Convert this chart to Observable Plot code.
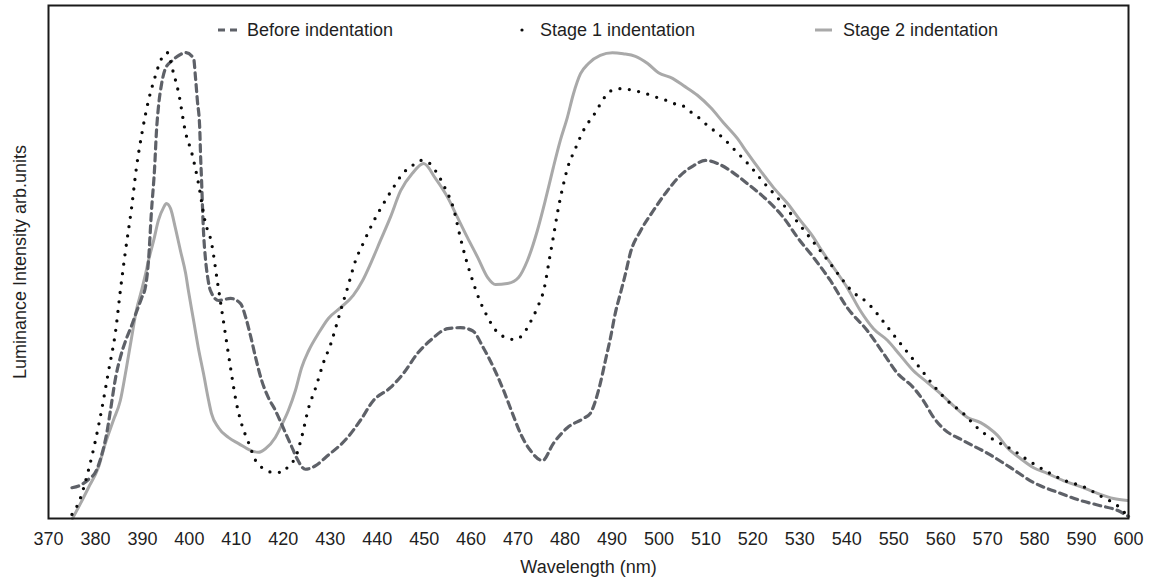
<!DOCTYPE html>
<html><head><meta charset="utf-8">
<script src="https://cdn.jsdelivr.net/npm/d3@7"></script>
<script src="https://cdn.jsdelivr.net/npm/@observablehq/plot@0.6"></script>
<style>
body{margin:0;background:#fff;font-family:"Liberation Sans",Arial,Helvetica,sans-serif;}
#wrap{position:relative;width:1152px;height:579px;overflow:hidden;}
.lg{position:absolute;top:20px;height:20px;line-height:20px;font-size:18px;color:#1f1f1f;white-space:nowrap;}
.sym{position:absolute;top:20px;}
</style></head><body><div id="wrap"></div>
<script>
// Wavelength (nm), intensity (arb. units, 0–100 scale)
const beforeIndentation = [[375.0,6.0],[376.6,6.4],[378.5,7.6],[380.2,9.4],[381.3,12.3],[382.4,16.6],[383.2,21.1],[384.3,27.5],[385.3,31.4],[386.6,35.1],[387.7,37.6],[388.7,40.2],[389.8,42.9],[390.7,45.4],[391.3,50.3],[391.9,59.5],[392.6,68.4],[393.0,75.6],[393.4,80.1],[394.1,84.8],[394.9,87.7],[396.4,89.3],[398.0,90.4],[399.2,90.8],[400.9,89.7],[401.3,86.0],[401.7,81.5],[402.2,76.2],[402.4,70.4],[402.6,65.9],[402.8,60.6],[403.0,56.1],[403.4,50.9],[403.9,47.0],[404.5,44.4],[406.2,42.5],[408.8,42.9],[410.9,41.9],[412.0,39.2],[413.0,35.7],[414.1,31.4],[415.4,26.9],[416.8,23.6],[418.3,21.1],[419.6,18.5],[420.7,16.2],[421.7,14.2],[422.8,11.9],[424.7,9.6],[426.9,10.3],[429.0,11.9],[433.7,15.8],[436.4,19.1],[439.2,23.0],[442.8,25.5],[445.6,28.3],[448.6,32.2],[451.3,34.7],[455.0,37.0],[457.7,37.2],[460.3,36.6],[462.6,33.3],[464.8,29.4],[466.9,25.0],[468.8,20.5],[470.5,16.6],[472.6,13.3],[475.2,11.3],[477.5,14.6],[480.5,17.7],[483.9,19.5],[485.4,20.5],[486.5,23.0],[487.5,26.3],[488.6,30.8],[489.7,35.3],[490.7,40.0],[491.8,43.9],[492.9,47.8],[493.9,51.7],[496.1,56.1],[498.8,60.0],[501.8,63.9],[504.6,66.9],[507.4,68.8],[509.9,69.8],[512.5,69.2],[515.2,67.8],[518.8,65.3],[523.1,62.0],[526.5,58.7],[529.5,54.8],[532.9,50.9],[536.5,46.4],[540.1,41.1],[544.4,36.6],[547.8,32.2],[550.8,28.3],[554.2,25.5],[556.3,23.0],[558.5,19.7],[560.6,17.5],[564.8,15.2],[570.0,12.7],[574.9,9.9],[579.8,7.0],[584.9,5.1],[589.8,3.5],[594.0,2.5],[597.6,1.6],[600.0,0.4]];

const stage1Indentation = [[375.0,0.8],[376.6,3.5],[378.5,9.4],[380.0,15.2],[381.3,21.1],[382.8,28.8],[384.3,36.6],[385.3,44.4],[386.4,52.2],[387.7,60.6],[388.7,68.2],[390.0,75.6],[391.3,81.5],[392.6,85.8],[394.1,89.7],[395.3,90.8],[396.6,86.9],[397.7,83.0],[399.2,75.2],[400.5,71.3],[401.9,65.5],[403.4,57.7],[404.7,53.8],[406.0,46.0],[407.3,38.2],[408.8,29.2],[410.0,22.6],[411.1,18.5],[412.6,14.8],[414.1,11.3],[415.8,9.7],[417.9,9.0],[420.0,9.0],[421.1,10.3],[422.6,11.9],[423.9,15.8],[425.4,21.6],[426.9,25.5],[428.6,30.5],[430.1,34.0],[431.1,37.0],[432.2,40.5],[433.7,45.0],[435.4,50.3],[437.1,53.8],[439.0,57.5],[441.1,61.0],[443.3,64.3],[445.6,67.4],[447.5,68.8],[449.2,69.8],[450.9,69.4],[452.4,67.8],[454.5,64.3],[456.2,60.6],[457.7,54.8],[458.8,50.9],[460.1,47.0],[461.4,43.5],[463.1,40.0],[465.6,36.3],[467.3,35.3],[469.2,34.9],[471.1,35.9],[472.2,37.6],[474.1,41.1],[475.6,45.0],[476.7,50.7],[477.5,54.8],[478.6,60.6],[479.5,64.5],[480.5,68.2],[482.2,72.1],[483.9,75.6],[486.3,78.9],[488.6,82.3],[490.3,83.6],[492.4,83.8],[494.6,83.4],[496.7,83.0],[498.8,82.3],[501.0,81.7],[503.1,80.9],[505.0,80.5],[506.7,79.3],[508.4,78.2],[510.1,76.8],[513.5,74.3],[516.5,71.5],[519.5,68.6],[522.3,65.5],[525.2,62.6],[528.0,59.5],[530.8,56.3],[533.5,53.2],[536.3,49.9],[538.7,47.0],[541.6,43.9],[543.3,42.9],[545.0,41.5],[547.6,38.6],[550.4,35.3],[553.1,32.2],[555.7,29.2],[558.5,25.9],[561.4,23.0],[564.8,20.5],[567.8,17.7],[571.2,15.4],[575.1,13.5],[578.7,11.3],[582.5,9.2],[586.4,7.4],[590.4,6.2],[594.2,4.3],[597.9,2.3],[599.3,1.0]];

const stage2Indentation = [[375.1,0.0],[376.8,2.9],[378.5,6.0],[380.6,9.9],[382.1,14.6],[383.8,19.1],[385.3,23.0],[386.6,29.4],[387.7,35.3],[388.7,40.5],[389.8,44.4],[390.7,47.8],[391.3,50.3],[392.4,54.2],[393.4,58.1],[394.5,60.6],[395.1,61.4],[396.0,60.4],[397.0,56.7],[398.1,52.2],[399.2,47.8],[399.8,44.4],[400.9,38.6],[401.9,33.3],[403.0,28.3],[404.1,23.0],[404.7,20.5],[406.2,17.7],[408.3,15.8],[410.5,14.6],[413.0,13.3],[414.7,12.9],[416.2,13.6],[418.3,15.8],[419.6,18.1],[421.1,21.1],[422.6,25.0],[423.9,29.4],[425.4,32.7],[427.5,36.1],[429.6,39.0],[432.2,41.1],[434.9,43.5],[436.9,46.4],[438.6,49.7],[440.7,54.2],[442.8,58.7],[445.0,63.9],[447.5,67.3],[449.9,69.2],[452.4,66.3],[455.0,62.6],[457.1,58.7],[459.2,54.8],[461.4,50.9],[463.5,47.0],[465.2,45.6],[467.7,45.8],[470.1,47.0],[472.0,50.3],[474.1,56.1],[475.8,62.0],[477.5,68.4],[479.0,73.7],[480.5,78.2],[481.8,82.8],[483.3,86.7],[485.0,88.7],[487.5,90.3],[490.1,90.8],[492.4,90.6],[495.0,90.1],[497.6,88.7],[499.9,86.9],[502.9,85.8],[505.2,84.4],[508.2,82.5],[511.0,80.1],[513.7,77.2],[516.7,74.1],[518.8,71.3],[521.6,67.8],[524.4,64.5],[527.4,61.4],[530.1,58.1],[532.9,54.8],[534.4,52.6],[537.2,48.9],[540.1,45.0],[542.9,40.5],[545.7,37.0],[548.7,34.7],[551.4,31.8],[554.2,28.8],[557.2,26.5],[559.9,24.4],[562.7,22.0],[565.7,19.7],[568.5,18.7],[570.2,17.7],[572.1,16.2],[574.2,13.8],[577.0,11.7],[579.8,9.9],[582.7,8.8],[586.1,7.4],[589.8,6.2],[593.4,4.9],[596.8,3.9],[599.8,3.5]];

const seriesNames = ["Before indentation", "Stage 1 indentation", "Stage 2 indentation"];
const xTicks = [370,380,390,400,410,420,430,440,450,460,470,480,490,500,510,520,530,540,550,560,570,580,590,600];
const xLabel = "Wavelength (nm)";
const yLabel = "Luminance Intensity arb.units";

const toRows = (pairs) => pairs.map(([wl, v]) => ({wl, v}));

const chart = Plot.plot({
  width: 1152,
  height: 579,
  marginLeft: 48,
  marginRight: 24,
  marginTop: 5,
  marginBottom: 61,
  style: {fontFamily: "'Liberation Sans', Arial, Helvetica, sans-serif", fontSize: "18px", color: "#1f1f1f", background: "#fff"},
  x: {domain: [370, 600]},
  y: {domain: [0, 100]},
  marks: [
    Plot.lineY(toRows(stage2Indentation), {x: "wl", y: "v", stroke: "#a9a9a9", strokeWidth: 3, curve: "monotone-x"}),
    Plot.lineY(toRows(beforeIndentation), {x: "wl", y: "v", stroke: "#5e6168", strokeWidth: 3.2, strokeDasharray: "7,5", curve: "monotone-x"}),
    Plot.lineY(toRows(stage1Indentation), {x: "wl", y: "v", stroke: "#0a0a0a", strokeWidth: 3.3, strokeDasharray: "0,9.5", strokeLinecap: "round", curve: "monotone-x"}),
    Plot.frame({stroke: "#1a1a1a", strokeWidth: 2}),
    Plot.axisX({ticks: xTicks, tickSize: 0, tickPadding: 14, label: xLabel, labelAnchor: "center", labelOffset: 54, labelArrow: "none"}),
    Plot.axisY({ticks: [], label: yLabel, labelAnchor: "center", labelOffset: 35, labelArrow: "none"})
  ]
});
const wrap = document.getElementById("wrap");
wrap.appendChild(chart);

// Legend inside the top of the frame
const legendItems = [
  {name: seriesNames[0], symLeft: 218, textLeft: 247, sym: '<svg width="20" height="20"><line x1="0" y1="10" x2="20" y2="10" stroke="#5e6168" stroke-width="3.2" stroke-dasharray="7,5"/></svg>'},
  {name: seriesNames[1], symLeft: 512, textLeft: 540, sym: '<svg width="20" height="20"><circle cx="10" cy="10" r="1.6" fill="#0a0a0a"/></svg>'},
  {name: seriesNames[2], symLeft: 815, textLeft: 843, sym: '<svg width="18" height="20"><line x1="0" y1="10" x2="17" y2="10" stroke="#a9a9a9" stroke-width="3"/></svg>'}
];
for (const it of legendItems) {
  const s = document.createElement("div");
  s.className = "sym"; s.style.left = it.symLeft + "px"; s.innerHTML = it.sym;
  wrap.appendChild(s);
  const t = document.createElement("div");
  t.className = "lg"; t.style.left = it.textLeft + "px"; t.textContent = it.name;
  wrap.appendChild(t);
}
</script></body></html>
